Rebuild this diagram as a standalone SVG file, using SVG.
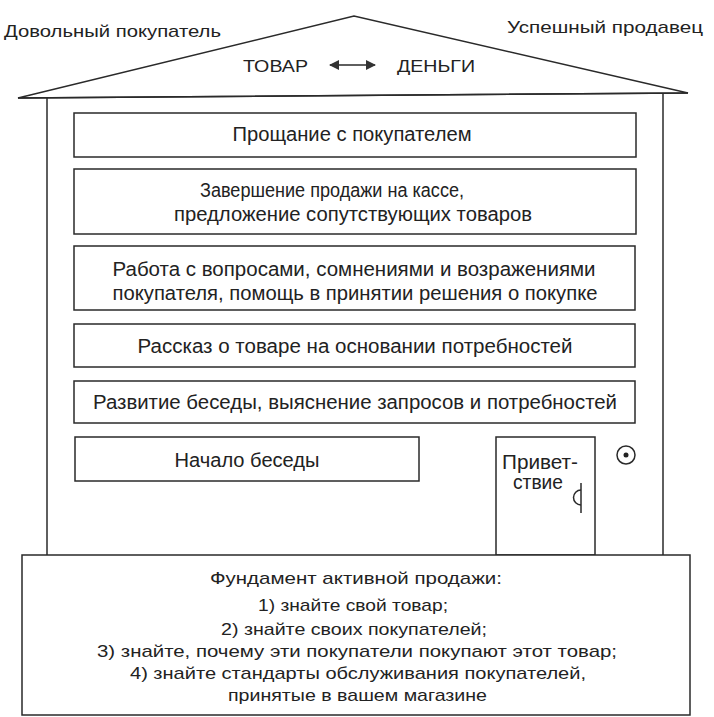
<svg xmlns="http://www.w3.org/2000/svg" width="714" height="717" viewBox="0 0 714 717">
<style>
.ln{fill:none;stroke:#2a2a2a;stroke-width:1.5}
.bx{fill:#fff;stroke:#2a2a2a;stroke-width:1.5}
.t{font-family:"Liberation Sans",Arial,sans-serif;font-size:20px;fill:#222;text-anchor:middle}
.n{font-family:"Liberation Sans",Arial,sans-serif;font-size:17px;fill:#222}
</style>
<defs>
<marker id="ah" viewBox="0 0 10 10" refX="9" refY="5" markerWidth="10" markerHeight="10" markerUnits="userSpaceOnUse" orient="auto-start-reverse">
<path d="M0,0 L10,5 L0,10 z" fill="#333"/>
</marker>
</defs>
<rect width="714" height="717" fill="#fff"/>
<g id="house">
<polygon class="ln" points="18,98 354,16 688,93"/>
<line class="ln" x1="18" y1="98" x2="688" y2="93"/>
<line class="ln" x1="47" y1="98" x2="47" y2="555"/>
<line class="ln" x1="663" y1="93" x2="663" y2="555"/>
</g>
<g id="labels">
<text class="n" x="4" y="37" textLength="217" lengthAdjust="spacingAndGlyphs">Довольный покупатель</text>
<text class="n" x="507" y="33" textLength="196" lengthAdjust="spacingAndGlyphs">Успешный продавец</text>
<text class="n" x="243" y="72" textLength="65" lengthAdjust="spacingAndGlyphs">ТОВАР</text>
<text class="n" x="397" y="72" textLength="78" lengthAdjust="spacingAndGlyphs">ДЕНЬГИ</text>
</g>
<g id="connectors">
<line class="ln" x1="330" y1="65" x2="375" y2="65" marker-start="url(#ah)" marker-end="url(#ah)"/>
</g>
<g id="n1"><rect class="bx" x="74" y="113" width="562" height="44"/><text class="t" x="352" y="141" textLength="239" lengthAdjust="spacingAndGlyphs">Прощание с покупателем</text></g>
<g id="n2"><rect class="bx" x="74" y="169" width="562" height="65"/><text class="t" x="332" y="197" textLength="264" lengthAdjust="spacingAndGlyphs">Завершение продажи на кассе,</text><text class="t" x="353" y="221" textLength="358" lengthAdjust="spacingAndGlyphs">предложение сопутствующих товаров</text></g>
<g id="n3"><rect class="bx" x="74" y="246" width="561" height="64"/><text class="t" x="354" y="276" textLength="483" lengthAdjust="spacingAndGlyphs">Работа с вопросами, сомнениями и возражениями</text><text class="t" x="355" y="300" textLength="485" lengthAdjust="spacingAndGlyphs">покупателя, помощь в принятии решения о покупке</text></g>
<g id="n4"><rect class="bx" x="74" y="324" width="561" height="43"/><text class="t" x="355" y="353" textLength="435" lengthAdjust="spacingAndGlyphs">Рассказ о товаре на основании потребностей</text></g>
<g id="n5"><rect class="bx" x="74" y="381" width="561" height="42"/><text class="t" x="355" y="409" textLength="524" lengthAdjust="spacingAndGlyphs">Развитие беседы, выяснение запросов и потребностей</text></g>
<g id="n6"><rect class="bx" x="75" y="437" width="344" height="44"/><text class="t" x="247" y="467" textLength="145" lengthAdjust="spacingAndGlyphs">Начало беседы</text></g>
<g id="door">
<rect class="bx" x="496" y="437" width="99" height="118"/>
<text class="t" x="540" y="469" textLength="76" lengthAdjust="spacingAndGlyphs">Привет-</text>
<text class="t" x="538" y="489" textLength="50" lengthAdjust="spacingAndGlyphs">ствие</text>
<line class="ln" x1="581" y1="483" x2="581" y2="513"/>
<path class="ln" d="M581,490 A7,7 0 0 0 581,505"/>
</g>
<g id="bell">
<circle class="ln" cx="626" cy="455" r="9"/>
<circle cx="626" cy="455" r="2.5" fill="#222"/>
</g>
<g id="foundation">
<rect class="bx" x="22" y="555" width="668" height="160"/>
<text class="n" x="210" y="584" textLength="292" lengthAdjust="spacingAndGlyphs">Фундамент активной продажи:</text>
<text class="n" x="258" y="611" textLength="190" lengthAdjust="spacingAndGlyphs">1) знайте свой товар;</text>
<text class="n" x="221" y="635" textLength="266" lengthAdjust="spacingAndGlyphs">2) знайте своих покупателей;</text>
<text class="n" x="97" y="657" textLength="520" lengthAdjust="spacingAndGlyphs">3) знайте, почему эти покупатели покупают этот товар;</text>
<text class="n" x="130" y="679" textLength="456" lengthAdjust="spacingAndGlyphs">4) знайте стандарты обслуживания покупателей,</text>
<text class="n" x="228" y="701" textLength="259" lengthAdjust="spacingAndGlyphs">принятые в вашем магазине</text>
</g>
</svg>
